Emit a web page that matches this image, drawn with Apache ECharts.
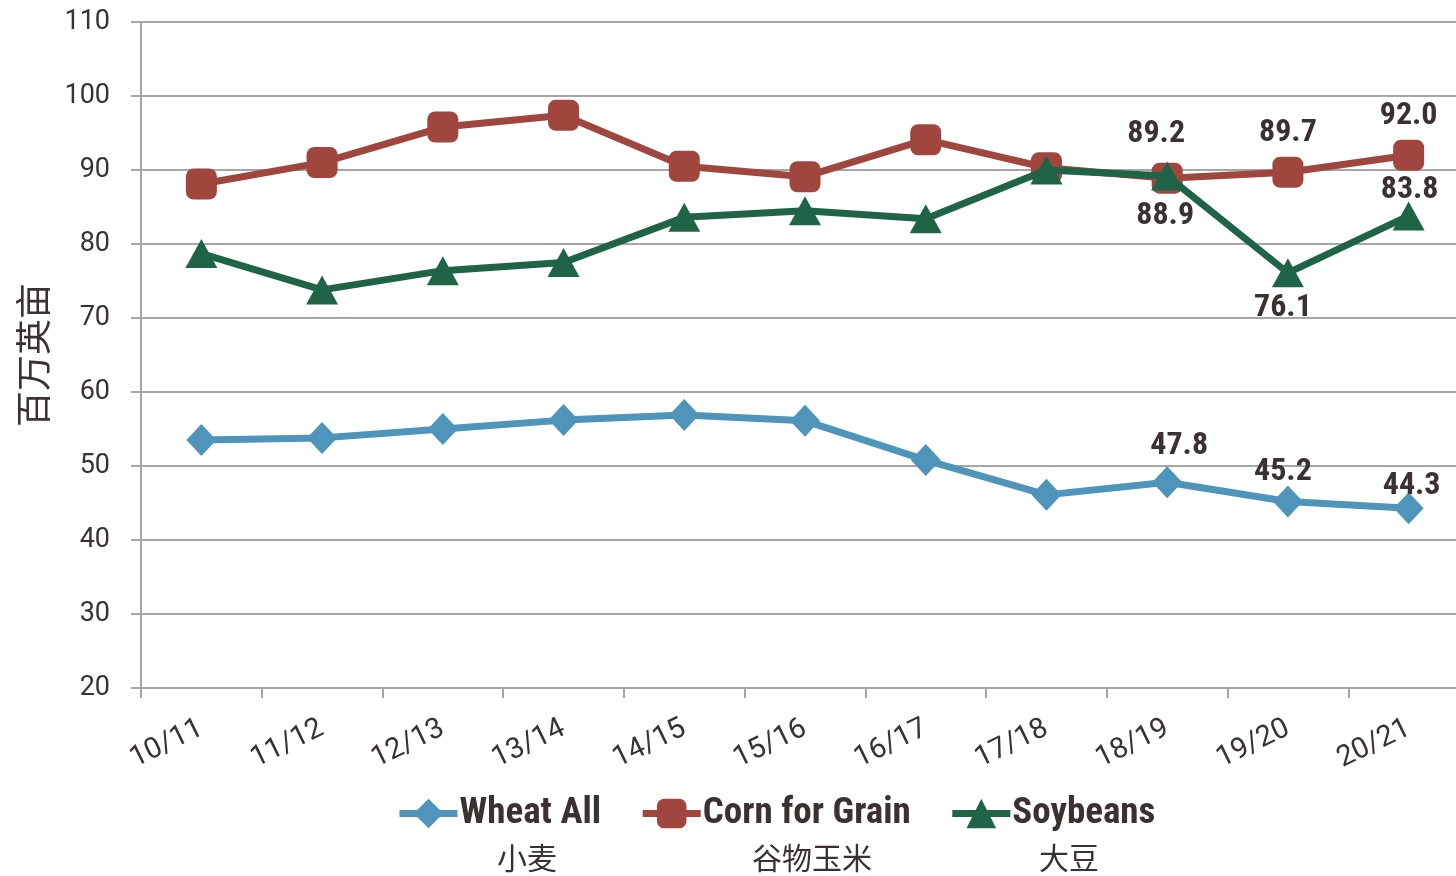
<!DOCTYPE html>
<html>
<head>
<meta charset="utf-8">
<title>Planted area</title>
<script src="https://cdn.jsdelivr.net/npm/echarts@6/dist/echarts.min.js"></script>
<style>
  html, body { margin: 0; padding: 0; background: #fff; }
  #chart { width: 1456px; height: 876px; }
</style>
</head>
<body>
<div id="chart"></div>
<script>
// Marketing years
const categories = ['10/11', '11/12', '12/13', '13/14', '14/15', '15/16', '16/17', '17/18', '18/19', '19/20', '20/21'];

// Area, million acres
const wheatAll = [53.5, 53.8, 55.0, 56.2, 56.9, 56.1, 50.8, 46.1, 47.8, 45.2, 44.3];
const cornForGrain = [88.1, 91.0, 95.8, 97.4, 90.5, 89.1, 94.1, 90.3, 88.9, 89.7, 92.0];
const soybeans = [78.7, 73.8, 76.4, 77.5, 83.6, 84.5, 83.4, 90.0, 89.2, 76.1, 83.8];

// Series names, English and Chinese
const seriesNames = ['Wheat All', 'Corn for Grain', 'Soybeans'];
const seriesNamesZh = ['小麦', '谷物玉米', '大豆'];

// Y axis scale
const yMin = 20, yMax = 110, yStep = 10;
const yTitle = '百万英亩';

const colors = { wheat: '#4f94bb', corn: '#a0463f', soy: '#1f6446' };
const textColor = '#3a3230';
const gridColor = '#a6a6a6';
const labelFont = '"Roboto Condensed", "Liberation Sans Narrow", "DejaVu Sans Condensed", Roboto, sans-serif';

// Which points carry a value label, and where it sits
function buildData(values, labelled) {
  return values.map((v, i) => {
    const spec = labelled[i];
    if (!spec) return v;
    return {
      value: v,
      label: {
        show: true,
        position: spec.pos,
        distance: spec.dist,
        offset: spec.off || [0, 0]
      }
    };
  });
}

const dataLabel = {
  show: false,
  color: textColor,
  fontFamily: labelFont,
  fontWeight: 'bold',
  fontSize: 32,
  formatter: p => Number(p.value).toFixed(1)
};

const chart = echarts.init(document.getElementById('chart'), null, { renderer: 'canvas' });

chart.setOption({
  animation: false,
  backgroundColor: '#ffffff',
  grid: { left: 141, right: -13, top: 22, bottom: 188, containLabel: false, outerBoundsMode: 'none' },
  xAxis: {
    type: 'category',
    data: categories,
    boundaryGap: true,
    axisLine: { lineStyle: { color: gridColor, width: 2 } },
    axisTick: { show: true, length: 10, lineStyle: { color: gridColor, width: 2 } },
    axisLabel: {
      rotate: 26, margin: 39, color: textColor,
      fontFamily: 'Roboto, sans-serif', fontSize: 29
    }
  },
  yAxis: {
    type: 'value',
    min: yMin, max: yMax, interval: yStep,
    name: yTitle,
    nameLocation: 'middle',
    nameRotate: 90,
    nameGap: 90,
    nameTextStyle: { color: textColor, fontFamily: '"Noto Sans CJK SC", sans-serif', fontSize: 36 },
    axisLine: { show: true, lineStyle: { color: gridColor, width: 2 } },
    axisTick: { show: true, length: 10, lineStyle: { color: gridColor, width: 2 } },
    splitLine: { lineStyle: { color: gridColor, width: 2 } },
    axisLabel: { margin: 31, color: textColor, fontFamily: 'Roboto, sans-serif', fontSize: 27 }
  },
  legend: {
    top: 790,
    left: 391,
    itemWidth: 58,
    itemHeight: 37,
    itemGap: 38,
    lineStyle: { width: 7 },
    textStyle: { color: textColor, fontFamily: labelFont, fontWeight: 'bold', fontSize: 37, padding: [0, 0, 0, -3] },
    data: seriesNames
  },
  graphic: seriesNamesZh.map((t, i) => ({
    type: 'text',
    left: [497, 752, 1039][i],
    top: 843,
    style: { text: t, fill: textColor, font: '30px "Noto Sans CJK SC", sans-serif' }
  })),
  series: [
    {
      name: seriesNames[0],
      type: 'line',
      data: buildData(wheatAll, {
        8: { pos: 'top', dist: 4, off: [12, 0] },
        9: { pos: 'top', dist: -2, off: [-5, 0] },
        10: { pos: 'top', dist: -10, off: [3, 0] }
      }),
      symbol: 'diamond',
      symbolSize: [30, 32],
      lineStyle: { color: colors.wheat, width: 7 },
      itemStyle: { color: colors.wheat },
      label: dataLabel,
      z: 3
    },
    {
      name: seriesNames[1],
      type: 'line',
      data: buildData(cornForGrain, {
        8: { pos: 'bottom', dist: 6, off: [-2, 0] },
        9: { pos: 'top', dist: 8, off: [0, 0] },
        10: { pos: 'top', dist: 8, off: [0, 0] }
      }),
      symbol: 'roundRect',
      symbolSize: 31,
      lineStyle: { color: colors.corn, width: 7 },
      itemStyle: { color: colors.corn },
      label: dataLabel,
      z: 2
    },
    {
      name: seriesNames[2],
      type: 'line',
      data: buildData(soybeans, {
        8: { pos: 'top', dist: 11, off: [-11, 0] },
        9: { pos: 'bottom', dist: 5, off: [-5, 0] },
        10: { pos: 'top', dist: -5, off: [1, 0] }
      }),
      symbol: 'triangle',
      symbolSize: [32, 29],
      lineStyle: { color: colors.soy, width: 7 },
      itemStyle: { color: colors.soy },
      label: dataLabel,
      z: 4
    }
  ]
});
</script>
</body>
</html>
